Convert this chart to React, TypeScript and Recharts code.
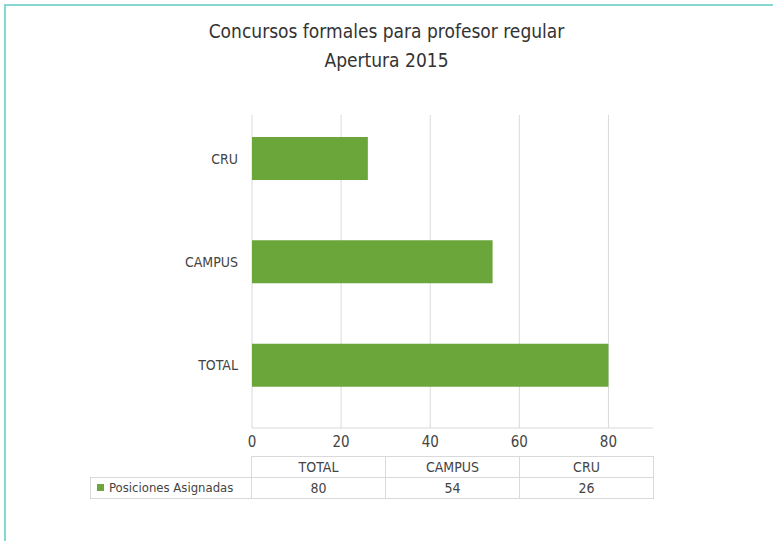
import { BarChart, Bar, XAxis, YAxis, CartesianGrid } from "recharts"

const categories = ["TOTAL", "CAMPUS", "CRU"]
const asignadas = [80, 54, 26]
const xTicks = [0, 20, 40, 60, 80]
const seriesName = "Posiciones Asignadas"
const titleLines = ["Concursos formales para profesor regular", "Apertura 2015"]

const data = categories.map((name, i) => ({ name, value: asignadas[i] }))

const FONT = '"Liberation Sans Narrow", "DejaVu Sans Condensed", "DejaVu Sans", sans-serif'
const GREEN = "#6aa63a"
const GRID = "#d9d9d9"
const TEXT = "#444"

const cell = {
    border: `1px solid ${GRID}`,
    padding: 0,
    height: 20,
    textAlign: "center" as const,
    fontSize: 14,
    color: TEXT,
    lineHeight: "20px",
}

export default function App() {
    return (
        <div
            style={{
                position: "absolute",
                left: 0,
                top: 0,
                width: 773,
                height: 541,
                overflow: "hidden",
                background: "#fff",
                fontFamily: FONT,
            }}
        >
            {/* teal frame, open on right and bottom */}
            <div
                style={{
                    position: "absolute",
                    left: 4,
                    top: 4,
                    width: 800,
                    height: 600,
                    borderLeft: "2px solid #86d7d0",
                    borderTop: "2px solid #86d7d0",
                }}
            />
            {titleLines.map((t, i) => (
                <div
                    key={t}
                    style={{
                        position: "absolute",
                        left: 0,
                        width: 773,
                        top: 19 + i * 29,
                        textAlign: "center",
                        fontSize: 19,
                        lineHeight: "24px",
                        color: "#333",
                    }}
                >
                    {t}
                </div>
            ))}
            <div style={{ position: "absolute", left: 0, top: 0 }}>
                <BarChart
                    width={773}
                    height={541}
                    data={data}
                    layout="vertical"
                    margin={{ top: 115, right: 120, left: 0, bottom: 83 }}
                >
                    <CartesianGrid horizontal={false} stroke={GRID} verticalValues={xTicks} />
                    <XAxis
                        type="number"
                        domain={[0, 90]}
                        ticks={xTicks}
                        height={30}
                        tickLine={false}
                        stroke={GRID}
                        tick={{ fontSize: 15, fill: TEXT, fontFamily: FONT }}
                    />
                    <YAxis
                        type="category"
                        dataKey="name"
                        reversed
                        width={252}
                        axisLine={false}
                        tickLine={false}
                        tickMargin={8}
                        padding={{ top: -8, bottom: 11 }}
                        tick={{ fontSize: 14, fill: TEXT, fontFamily: FONT }}
                    />
                    <Bar dataKey="value" name={seriesName} fill={GREEN} barSize={43} isAnimationActive={false} />
                </BarChart>
            </div>
            <table
                style={{
                    position: "absolute",
                    left: 90,
                    top: 456,
                    borderCollapse: "collapse",
                    fontFamily: FONT,
                }}
            >
                <tbody>
                    <tr>
                        <td style={{ width: 160, padding: 0 }} />
                        {categories.map((c) => (
                            <td key={c} style={{ ...cell, width: 133 }}>
                                {c}
                            </td>
                        ))}
                    </tr>
                    <tr>
                        <td style={{ ...cell, textAlign: "left", paddingLeft: 6, width: 154, fontSize: 13 }}>
                            <span
                                style={{
                                    display: "inline-block",
                                    width: 7,
                                    height: 7,
                                    background: GREEN,
                                    marginRight: 5,
                                    verticalAlign: "middle",
                                    position: "relative",
                                    top: -1,
                                }}
                            />
                            {seriesName}
                        </td>
                        {asignadas.map((v, i) => (
                            <td key={categories[i]} style={cell}>
                                {v}
                            </td>
                        ))}
                    </tr>
                </tbody>
            </table>
        </div>
    )
}
